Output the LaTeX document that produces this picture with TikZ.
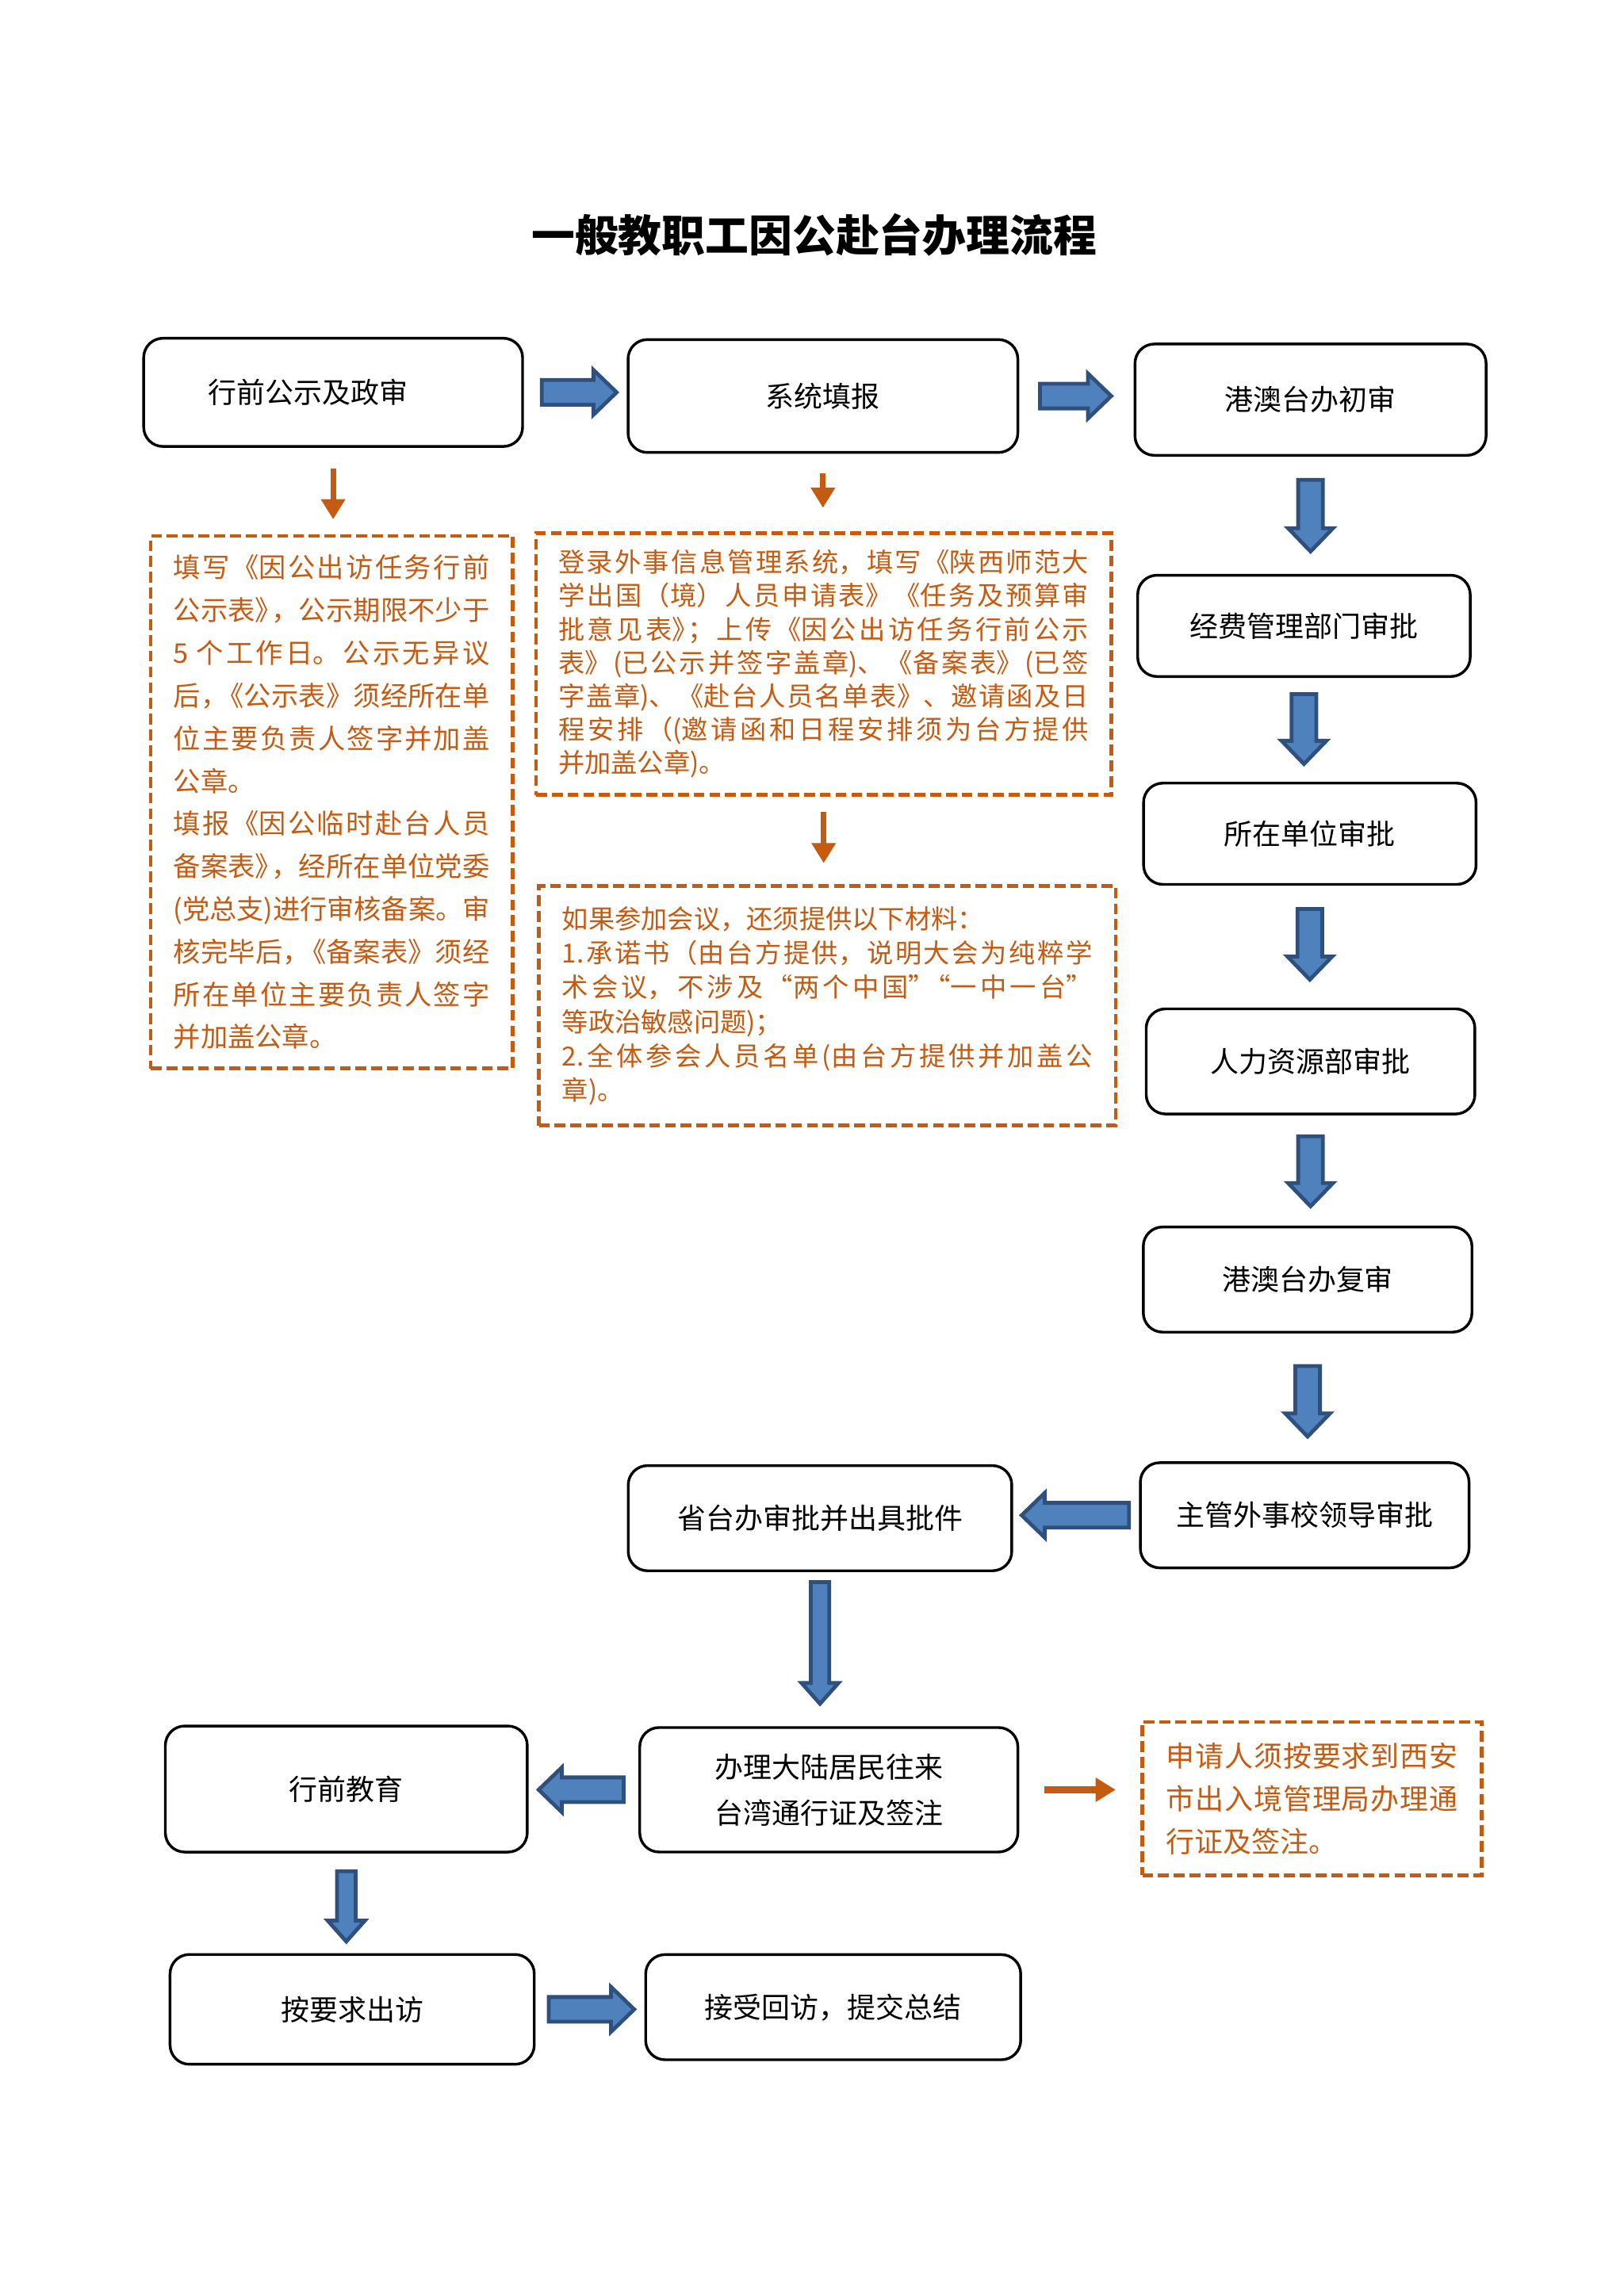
\documentclass[tikz,border=0pt]{standalone}
\usepackage{fontspec}
\setmainfont{Noto Sans CJK SC}
\usetikzlibrary{calc,arrows.meta}
\definecolor{noteorange}{RGB}{197,90,17}
\definecolor{arrowface}{RGB}{79,129,189}
\definecolor{arrowedge}{RGB}{47,80,125}
\XeTeXlinebreaklocale "zh"
\XeTeXlinebreakskip=0pt plus 2pt minus 0.3pt
\def\bashaft{0.16cm}
\def\bawing{0.29cm}
\def\bahead{0.3cm}
\def\notew{4cm}
\newcommand{\tight}{\kern-0.4em}
\newcommand{\jl}[1]{\parbox[b]{\notew}{\XeTeXlinebreakpenalty=10000 \parfillskip=0pt #1}}

\begin{document}
\begin{tikzpicture}[x=0.018938cm, y=-0.018938cm,
    box/.style={draw, line width=1pt, rounded corners=0.25cm, align=center, inner sep=0pt,
      font=\fontsize{10.5pt}{17pt}\selectfont},
    note/.style={draw=noteorange, text=noteorange, line width=1.4pt, dash pattern=on 4pt off 1.8pt,
      align=left, inner sep=0pt},
    thinarrow/.style={draw=noteorange, line width=2pt, -{Triangle[length=0.26cm, width=0.3cm]}},
    slim/.code={\def\bashaft{0.12cm}\def\bawing{0.24cm}\def\bahead{0.27cm}},
    blockarrow/.style={draw=arrowedge, fill=arrowface, line width=1.4pt, to path={
      ($(\tikztostart)!\bashaft!90:(\tikztotarget)$)
      -- ($($(\tikztotarget)!\bahead!(\tikztostart)$)!\bashaft!90:(\tikztotarget)$)
      -- ($($(\tikztotarget)!\bahead!(\tikztostart)$)!\bawing!90:(\tikztotarget)$)
      -- (\tikztotarget)
      -- ($($(\tikztotarget)!\bahead!(\tikztostart)$)!\bawing!-90:(\tikztotarget)$)
      -- ($($(\tikztotarget)!\bahead!(\tikztostart)$)!\bashaft!-90:(\tikztotarget)$)
      -- ($(\tikztostart)!\bashaft!-90:(\tikztotarget)$) -- cycle}}]

    \useasboundingbox (0,0) rectangle (1108.9,1568.3);

    \node (title) at (556,160.5) {\fontsize{16pt}{20pt}\selectfont\bfseries 一般教职工因公赴台办理流程};

    % steps
    \node[box, minimum width=4.90cm, minimum height=1.40cm] (pub) at (227.5,268) {行前公示及政审\hspace*{0.65cm}};
    \node[box, minimum width=5.04cm, minimum height=1.46cm] (sys) at (562,270.5) {系统填报};
    \node[box, minimum width=4.54cm, minimum height=1.44cm] (hk1) at (895,273) {港澳台办初审};
    \node[box, minimum width=4.30cm, minimum height=1.31cm] (fund) at (890.5,427.5) {经费管理部门审批};
    \node[box, minimum width=4.30cm, minimum height=1.31cm] (unit) at (894.5,569.5) {所在单位审批};
    \node[box, minimum width=4.25cm, minimum height=1.36cm] (hr) at (895,725) {人力资源部审批};
    \node[box, minimum width=4.25cm, minimum height=1.36cm] (hk2) at (893,874) {港澳台办复审};
    \node[box, minimum width=4.25cm, minimum height=1.36cm] (lead) at (891,1035) {主管外事校领导审批};
    \node[box, minimum width=4.96cm, minimum height=1.36cm] (prov) at (560,1037) {省台办审批并出具批件};
    \node[box, minimum width=4.89cm, minimum height=1.61cm] (pass) at (566,1222.5) {办理大陆居民往来\\台湾通行证及签注};
    \node[box, minimum width=4.68cm, minimum height=1.63cm] (edu) at (236.5,1222) {行前教育};
    \node[box, minimum width=4.71cm, minimum height=1.42cm] (visit) at (240.5,1372.5) {按要求出访};
    \node[box, minimum width=4.85cm, minimum height=1.36cm] (report) at (569,1371) {接受回访，提交总结};

    % notes
    \node[note, minimum width=4.68cm, minimum height=6.89cm,
      font=\fontsize{10pt}{15.7pt}\selectfont\def\notew{4.09cm}] (pubnote) at (226.5,548)
      {\jl{填写《因公出访任务行前}\\\jl{公示表》\tight，公示期限不少于}\\\jl{5~个工作日。公示无异议}\\\jl{后，\tight《公示表》须经所在单}\\\jl{位主要负责人签字并加盖}\\公章。\\\jl{填报《因公临时赴台人员}\\\jl{备案表》\tight，经所在单位党委}\\\jl{(党总支)进行审核备案。审}\\\jl{核完毕后，\tight《备案表》须经}\\\jl{所在单位主要负责人签字}\\并加盖公章。};
    \node[note, minimum width=7.44cm, minimum height=3.39cm,
      font=\fontsize{9.7pt}{12.3pt}\selectfont\def\notew{6.86cm}] (sysnote) at (562.5,453.5)
      {\jl{登录外事信息管理系统，填写《陕西师范大}\\\jl{学出国（境）人员申请表》《任务及预算审}\\\jl{批意见表》\tight；上传《因公出访任务行前公示}\\\jl{表》(已公示并签字盖章)、《备案表》(已签}\\\jl{字盖章)、《赴台人员名单表》、邀请函及日}\\\jl{程安排（(邀请函和日程安排须为台方提供}\\并加盖公章)。};
    \node[note, minimum width=7.46cm, minimum height=3.10cm,
      font=\fontsize{9.7pt}{12.6pt}\selectfont\def\notew{6.86cm}] (confnote) at (565,687)
      {如果参加会议，还须提供以下材料：\\\jl{1.承诺书（由台方提供，说明大会为纯粹学}\\\jl{术会议，不涉及“两个中国”\tight“一中一台”}\\等政治敏感问题)；\\\jl{2.全体参会人员名单(由台方提供并加盖公}\\章)。};
    \node[note, minimum width=4.39cm, minimum height=1.98cm,
      font=\fontsize{10.5pt}{15.7pt}\selectfont\def\notew{3.78cm}] (passnote) at (896,1228.5)
      {\jl{申请人须按要求到西安}\\\jl{市出入境管理局办理通}\\行证及签注。};

    \draw[thinarrow] ($(pub.south)+(0,-0.27cm)$) -- ($(pub.south |- pubnote.north)+(0,0.19cm)$);
    \draw[thinarrow] ($(sys.south)+(0,-0.25cm)$) -- ($(sys.south |- sysnote.north)+(0,0.3cm)$);
    \draw[thinarrow] ($(sysnote.south)+(0,-0.19cm)$) -- ($(sysnote.south |- confnote.north)+(0,0.27cm)$);
    \draw[thinarrow, line width=2.6pt] ($(pass.east)+(0.32cm,0)$) -- ($(pass.east -| passnote.west)+(-0.32cm,0)$);

    \path[blockarrow] ($(pub.east)+(0.23cm,0)$) to ($(pub.east -| sys.west)+(-0.13cm,0)$);
    \path[blockarrow] ($(sys.east)+(0.27cm,0)$) to ($(sys.east -| hk1.west)+(-0.29cm,0)$);
    \path[blockarrow] ($(hk1.south)+(0,-0.3cm)$) to ($(hk1.south |- fund.north)+(0,0.29cm)$);
    \path[blockarrow] ($(fund.south)+(0,-0.21cm)$) to ($(fund.south |- unit.north)+(0,0.23cm)$);
    \path[blockarrow] ($(unit.south)+(0,-0.3cm)$) to ($(unit.south |- hr.north)+(0,0.36cm)$);
    \path[blockarrow] ($(hr.south)+(0,-0.27cm)$) to ($(hr.south |- hk2.north)+(0,0.25cm)$);
    \path[blockarrow] ($(hk2.south)+(0,-0.42cm)$) to ($(hk2.south |- lead.north)+(0,0.32cm)$);
    \path[blockarrow] ($(lead.west)+(-0.13cm,0)$) to ($(lead.west -| prov.east)+(0.11cm,0)$);
    \path[blockarrow, slim] ($(prov.south)+(0,-0.13cm)$) to ($(prov.south |- pass.north)+(0,0.29cm)$);
    \path[blockarrow] ($(pass.west)+(-0.19cm,0)$) to ($(pass.west -| edu.east)+(0.13cm,0)$);
    \path[blockarrow, slim] ($(edu.south)+(0,-0.23cm)$) to ($(edu.south |- visit.north)+(0,0.15cm)$);
    \path[blockarrow] ($(visit.east)+(0.17cm,0)$) to ($(visit.east -| report.west)+(-0.13cm,0)$);
\end{tikzpicture}
\end{document}
